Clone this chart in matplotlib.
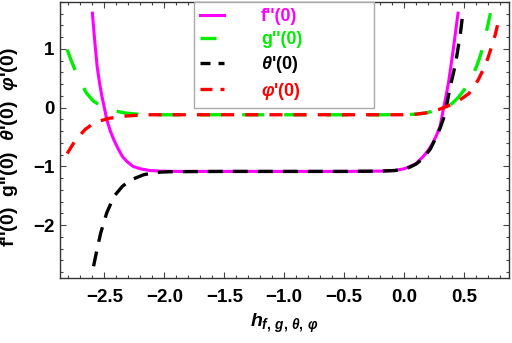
import matplotlib
matplotlib.use('Agg')
import matplotlib.pyplot as plt
from matplotlib.lines import Line2D
from matplotlib.ticker import MultipleLocator

plt.rcParams['font.family'] = 'Liberation Sans'
plt.rcParams['font.weight'] = 'bold'
plt.rcParams['axes.labelweight'] = 'bold'
plt.rcParams['mathtext.fontset'] = 'custom'
plt.rcParams['mathtext.rm'] = 'Liberation Sans:bold'
plt.rcParams['mathtext.it'] = 'Liberation Sans:italic:bold'
plt.rcParams['mathtext.bf'] = 'Liberation Sans:bold'
plt.rcParams['lines.scale_dashes'] = False

# f''(0) - magenta solid
x_f = [-2.60, -2.58, -2.56, -2.54, -2.52, -2.50, -2.48, -2.45, -2.42, -2.39, -2.35,
       -2.31, -2.26, -2.20, -2.12, -2.03, -1.90, -1.50, -1.00, -0.50, -0.20, -0.08,
       0.00, 0.05, 0.10, 0.16, 0.20, 0.24, 0.27, 0.30, 0.33, 0.35, 0.37, 0.39, 0.41,
       0.43, 0.45]
y_f = [1.61, 1.13, 0.70, 0.42, 0.19, 0.00, -0.20, -0.40, -0.55, -0.68, -0.83,
       -0.92, -1.00, -1.04, -1.07, -1.08, -1.085, -1.085, -1.085, -1.085, -1.08, -1.07,
       -1.04, -1.00, -0.95, -0.83, -0.73, -0.60, -0.47, -0.32, 0.00, 0.20, 0.42, 0.70, 0.99,
       1.30, 1.61]

# g''(0) - green long dash
x_g = [-2.81, -2.78, -2.74, -2.70, -2.65, -2.59, -2.51, -2.42, -2.33, -2.17, -2.00,
       -1.00, 0.00, 0.10, 0.18, 0.24, 0.29, 0.33, 0.40, 0.45, 0.50, 0.56, 0.60, 0.63,
       0.66, 0.68, 0.70, 0.72]
y_g = [0.99, 0.82, 0.62, 0.44, 0.25, 0.11, 0.01, -0.05, -0.09, -0.12, -0.12,
       -0.12, -0.12, -0.11, -0.09, -0.06, -0.03, 0.00, 0.07, 0.17, 0.30, 0.51, 0.68, 0.85,
       1.05, 1.24, 1.42, 1.61]

# theta'(0) - black dash
x_t = [-2.59, -2.56, -2.53, -2.48, -2.42, -2.35, -2.28, -2.17, -2.06, -1.95, -1.50,
       -1.00, -0.50, -0.20, -0.08, 0.00, 0.05, 0.10, 0.16, 0.22, 0.27, 0.30, 0.34, 0.38,
       0.43, 0.47, 0.49]
y_t = [-2.70, -2.40, -2.13, -1.79, -1.51, -1.34, -1.23, -1.14, -1.10, -1.09, -1.085,
       -1.085, -1.085, -1.08, -1.07, -1.05, -1.01, -0.96, -0.86, -0.70, -0.49, -0.35, -0.12, 0.31,
       0.76, 1.27, 1.61]

# phi'(0) - red dash
x_p = [-2.81, -2.74, -2.66, -2.58, -2.46, -2.31, -2.15, -1.50, -1.00, -0.50, 0.00,
       0.10, 0.18, 0.24, 0.29, 0.33, 0.40, 0.45, 0.54, 0.58, 0.62, 0.66, 0.70, 0.73,
       0.76, 0.79]
y_p = [-0.78, -0.55, -0.37, -0.25, -0.18, -0.14, -0.12, -0.12, -0.12, -0.12, -0.12,
       -0.11, -0.09, -0.06, -0.03, 0.00, 0.06, 0.11, 0.24, 0.35, 0.48, 0.65, 0.85, 1.04,
       1.24, 1.50]

labels = ["f''(0)", "g''(0)", r"$\theta$'(0)", r"$\varphi$'(0)"]
colors = ['#ff00ff', '#00ee00', 'black', '#ff0000']

fig = plt.figure(figsize=(5.12, 3.43), dpi=100)
ax = fig.add_axes([60 / 512, 65 / 343, 449 / 512, 276 / 343])

ax.plot(x_f, y_f, color=colors[0], lw=2.2)
ax.plot(x_g, y_g, color=colors[1], lw=2.4, dashes=(15.8, 14.4))
ax.plot(x_t, y_t, color=colors[2], lw=2.4, dashes=(10.8, 7.2))
ax.plot(x_p, y_p, color=colors[3], lw=2.4, dashes=(9.4, 8.0))

ax.set_xlim(-2.87, 0.875)
ax.set_ylim(-2.9, 1.8)
ax.xaxis.set_major_locator(MultipleLocator(0.5))
ax.xaxis.set_minor_locator(MultipleLocator(0.1))
ax.yaxis.set_major_locator(MultipleLocator(1))
ax.yaxis.set_minor_locator(MultipleLocator(0.2))
ax.xaxis.set_major_formatter(plt.FuncFormatter(lambda v, p: ('%.1f' % v).replace('-', '\u2212')))
ax.tick_params(which='both', direction='in', top=True, right=True, width=0.8, color='#444444')
ax.tick_params(which='major', length=4.5, labelsize=13.5)
ax.tick_params(which='minor', length=2.5)
ax.tick_params(axis='x', pad=8)
ax.tick_params(axis='y', pad=4)
for s in ax.spines.values():
    s.set_color('#333333')
    s.set_linewidth(1.0)

ax.set_ylabel(r"f''(0)  g''(0)  $\theta$'(0)  $\varphi$'(0)", fontsize=14, fontweight='bold')
ax.yaxis.set_label_coords(-0.089, 0.475)
ax.set_xlabel(r"$h_{f,\,g,\,\theta,\,\varphi}$", fontsize=14, labelpad=4)

handles = [Line2D([], [], color=colors[0], lw=2.2),
           Line2D([], [], color=colors[1], lw=2.4, dashes=(11.5, 14)),
           Line2D([], [], color=colors[2], lw=2.4, dashes=(7.2, 5.8)),
           Line2D([], [], color=colors[3], lw=2.4, dashes=(8.6, 5.8))]
leg = ax.legend(handles, labels, loc='upper left', bbox_to_anchor=(0.298, 1.0, 0.401, 0.0),
                mode='expand', borderaxespad=0, fontsize=13, handlelength=1.33,
                handletextpad=2.05, labelspacing=0.32, borderpad=0.35, fancybox=False,
                framealpha=1, edgecolor='#aaaaaa')
leg.get_frame().set_linewidth(1.0)
for t, c in zip(leg.get_texts(), colors):
    t.set_color(c)

fig.savefig('out.png', dpi=100)
